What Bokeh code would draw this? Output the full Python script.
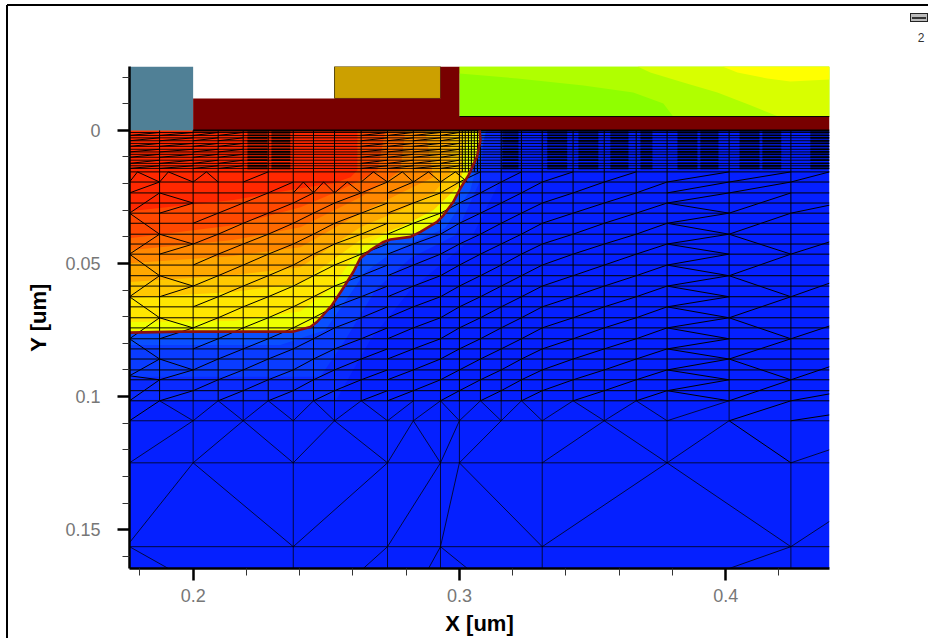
from bokeh.plotting import figure
from bokeh.models import Range1d, FixedTicker, Title
from bokeh.embed import file_html
from bokeh.resources import INLINE

# ---- mesh columns (um) ----
XN = [.1761,.1874,.2000,.2094,.2188,.2282,.2376,.2452,.2531,.2631,.2730,.2827,.2929,.3000,.3079,
      .3157,.3233,.3311,.3427,.3544,.3664,.3780,.4013,.4245,.4390,
      .1791,.1907,.2050,.2677,.2786,.2884,.2985,.2490,.2579,.2414,.3030,.2639]
# ---- mesh rows (um) ----
YN = [.0156,.0194,.0235,.0273,.0311,.0349,.0390,.0427,.0465,.0506,.0546,.0585,.0625,.0663,.0704,.0742,
      .0783,.0821,.0859,.0900,.0937,.0978,.1016,.1091,.1249,.1564,.1646,
      .0281,.0419,.0574,.0735,.0888,.0990,.1069,.1200,.1469,.0922,.1549]
YD = [.0008,.0019,.0028,.0039,.0049,.0060,.0071,.0081,.0090,.0101,.0112,.0124,.0133,.0143]
X_DENSE = [.3011,.3022,.3034,.3045,.3056,.3068]
COL_BOTTOM = [22,24,22,23,22,26,22,23,22,26,23,26,24,22,23,22,26,22,23,22,24,23,26]
DIAG_TOP = {2:3,3:3,4:0,5:0,6:2,7:2,8:2,9:1,10:1,11:1,12:1,13:0,14:0,15:0,16:0,17:0,18:0,19:0,20:0}
DARK_BANDS = [(.2204,.2279),(.2294,.2365),(.3161,.3222),(.3330,.3405),
              (.3447,.3522),(.3567,.3635),(.3680,.3725),(.3819,.3894),(.3905,.3973),(.4052,.4127),(.4138,.4209),(.4318,.4390)]
EDGES = [(0,1,25,0),(25,0,1,1),(1,1,26,0),(26,0,2,1),(2,1,27,0),(27,0,3,1),
 (6,2,34,1),(34,1,7,2),(7,2,32,1),(32,1,8,2),(8,2,33,1),(33,1,9,2),
 (9,1,28,0),(28,0,10,1),(10,1,29,0),(29,0,11,1),(11,1,30,0),(30,0,12,1),(12,1,31,0),(31,0,35,1),
 (0,2,1,1),(0,4,1,2),(0,4,1,6),(0,8,1,6),(0,8,1,10),(0,12,1,10),(0,12,1,14),(0,16,1,14),(0,16,1,18),(0,36,1,18),(0,36,1,20),(0,22,1,20),(0,23,1,22),
 (1,2,2,3),(1,4,2,3),(1,6,2,7),(1,8,2,7),(1,10,2,11),(1,12,2,11),(1,14,2,15),(1,16,2,15),(1,18,2,19),(1,20,2,19),(1,22,2,21),
 (21,1,22,0),(21,2,22,1),(21,3,22,2),(22,1,23,0),(22,2,23,1),(23,1,24,0),
 (21,3,22,4),(21,5,22,4),(21,5,22,6),(21,7,22,6),(21,7,22,8),(21,9,22,8),(21,9,22,10),(21,11,22,10),(21,11,22,12),(21,13,22,12),
 (21,13,22,14),(21,15,22,14),(21,15,22,16),(21,17,22,16),(21,17,22,18),(21,19,22,18),(21,19,22,20),(21,21,22,20),(21,21,22,22),
 (22,4,23,2),(22,6,23,4),(22,6,23,8),(22,10,23,8),(22,10,23,12),(22,14,23,12),(22,14,23,16),(22,18,23,16),(22,18,23,20),(22,22,23,20),(22,23,23,22),(22,23,23,24),
 (23,4,24,27),(23,8,24,28),(23,12,24,29),(23,16,24,30),(23,20,24,31),(23,22,24,32),(23,23,24,33)]
THIN_EDGES = [(23,24,24,34),(23,25,24,35),
 (1,22,2,23),(2,23,3,22),(3,22,4,23),(4,23,5,22),(5,22,6,23),(6,23,7,22),(7,22,8,23),(8,23,9,22),(9,22,10,23),(10,23,11,22),
 (11,23,12,22),(12,22,13,23),(13,23,14,22),(14,22,15,23),(15,23,16,22),(16,22,17,23),(17,23,18,22),(18,22,19,23),(19,23,20,22),(20,22,21,23),(21,23,22,22),
 (0,24,2,23),(0,37,2,24),(4,23,2,24),(4,23,6,24),(8,23,6,24),(8,23,10,24),(11,23,10,24),(11,23,12,24),(13,23,12,24),(15,23,13,24),
 (19,23,17,24),(19,23,21,24),(22,23,21,24),
 (2,24,6,25),(10,24,6,25),(12,24,10,25),(13,24,12,25),(13,24,17,25),(21,24,17,25),(21,24,23,25),
 (0,25,26,26),(10,25,36,26),(12,25,30,26),(12,25,35,26),(23,25,22,26)]

# ---- junction line ----
JX = [.3076,.3079,.3066,.3034,.3004,.2977,.2940,.2916,.2854,.2816,.2741,.2715,.2666,.2628,.2602,.2564,.2522,.2466,.2440,.2377,.1952,.1761]
JY = [0,.0037,.0100,.0169,.0217,.0269,.0319,.0344,.0381,.0400,.0410,.0419,.0450,.0480,.0531,.0592,.0656,.0719,.0739,.0756,.0756,.0760]

# ---- contour bands, left edge to top edge (um) ----
BANDS = [
 ("#ffe600",[.1761,.2151,.2403,.2522,.2628,.2778,.2902,.2993,.3049],[.0720,.0716,.0680,.0590,.0440,.0360,.0280,.0130,0]),
 ("#ffc800",[.1761,.2151,.2403,.2628,.2778,.2902,.2993,.3015,.3011],[.0630,.0607,.0574,.0412,.0364,.0300,.0214,.0150,0]),
 ("#ffa800",[.1761,.2151,.2403,.2628,.2778,.2902,.2966,.2966],[.0570,.0544,.0514,.0364,.0300,.0236,.0161,0]),
 ("#ff8800",[.1761,.2151,.2403,.2628,.2778,.2902,.2872],[.0499,.0472,.0439,.0311,.0236,.0176,0]),
 ("#ff6800",[.1761,.2151,.2403,.2628,.2730,.2778,.2797],[.0450,.0412,.0364,.0251,.0187,.0150,0]),
 ("#ff4800",[.1761,.2151,.2403,.2527,.2628,.2692,.2722],[.0405,.0356,.0289,.0236,.0187,.0150,0]),
 ("#ff2800",[.1761,.2151,.2403,.2527,.2591,.2617,.2617],[.0304,.0262,.0217,.0199,.0176,.0150,0]),
]
BLUES = [
 ("#0a2aff",[.1761,.2538,.2666,.2816,.3041,.3154,.3173],[.1012,.1012,.0787,.0600,.0412,.0187,0]),
 ("#0a3cff",[.1761,.2478,.2572,.2685,.2816,.2985,.3079,.3094],[.0926,.0926,.0787,.0600,.0480,.0394,.0187,0]),
 ("#0a50ff",[.1761,.2328,.2497,.2647,.2760,.2947,.3041,.3101],[.0806,.0806,.0750,.0532,.0450,.0367,.0225,0]),
]
# ---- layers above the surface ----
GREEN_BASE = "#90ff00"
GREENS = [
 ("#b0ff00",[.3000,.3218,.3466,.3653,.3766,.3803],[-.0214,-.0195,-.0169,-.0142,-.0101,-.0052]),
 ("#d8ff00",[.3669,.3717,.3841,.3969,.4093,.4198,.4390],[-.0240,-.0217,-.0180,-.0142,-.0094,-.0052,-.0052]),
 ("#ffff00",[.3988,.4044,.4157,.4243,.4390],[-.0240,-.0217,-.0195,-.0184,-.0191]),
]
OX_X = [.2000,.2929,.2929,.3000,.3000,.4390,.4390,.2000]
OX_Y = [-.0120,-.0120,-.0240,-.0240,-.0052,-.0052,0,0]

X_TICKS = [.2,.3,.4]
Y_TICKS = [0,.05,.1,.15]
X_MINOR = [.18,.22,.24,.26,.28,.32,.34,.36,.38,.42]
Y_MINOR = [-.02,-.01,.01,.02,.03,.04,.06,.07,.08,.09,.11,.12,.13,.14,.16]

X0, X1 = XN[0], XN[24]
Y0, Y1 = -.0240, YN[26]

p = figure(width=928, height=638, output_backend="svg", toolbar_location=None,
           x_range=Range1d(X0, X1), y_range=Range1d(Y1, Y0),
           min_border_left=129, min_border_right=99, min_border_top=66, min_border_bottom=69,
           x_axis_label="X [um]", y_axis_label="Y [um]")
p.grid.visible = False
p.outline_line_color = None
p.border_fill_color = None
p.styles = {
    "background-color": "white",
    "background-image": "linear-gradient(#000,#000),linear-gradient(#000,#000),linear-gradient(#333,#333),linear-gradient(#bbb,#bbb),linear-gradient(#222,#222)",
    "background-repeat": "no-repeat",
    "background-size": "921px 2px,2px 633px,14px 2px,16px 7px,18px 9px",
    "background-position": "7px 4px,6px 5px,912px 17px,911px 14px,910px 13px",
}
p.add_layout(Title(text="2", align="right", offset=-95, standoff=50, text_font_size="12px",
                   text_color="#333333", text_font="Liberation Sans", text_font_style="normal"), "above")

# n-region and p-region fills
p.quad(left=X0, right=X1, top=0, bottom=Y1, fill_color="#0520ff", line_color=None)
for c, xs, ys in BLUES:
    p.patch([X0]+xs+[X0], [0]+ys+[0], fill_color=c, line_color=None)
p.patch(JX+[X0], JY+[0], fill_color="#eeff00", line_color=None)
for c, xs, ys in BANDS:
    p.patch(xs+[X0], ys+[0], fill_color=c, line_color=None)

# layers above the surface
p.quad(left=X0, right=XN[2], top=Y0, bottom=0, fill_color="#508096", line_color=None)
p.quad(left=XN[13], right=X1, top=Y0, bottom=OX_Y[5], fill_color=GREEN_BASE, line_color=None)
gx1, gy1 = GREENS[0][1], GREENS[0][2]
p.patch([gx1[0]]+gx1+[X1, X1], [Y0]+gy1+[OX_Y[5], Y0], fill_color=GREENS[0][0], line_color=None)
gx2, gy2 = GREENS[1][1], GREENS[1][2]
p.patch(gx2+[X1], gy2+[Y0], fill_color=GREENS[1][0], line_color=None)
gx3, gy3 = GREENS[2][1], GREENS[2][2]
p.patch(gx3+[X1], gy3+[Y0], fill_color=GREENS[2][0], line_color=None)
p.quad(left=XN[8], right=XN[12], top=Y0, bottom=OX_Y[0], fill_color="#cca000", line_color="#5a4a10", line_width=1)
p.patch(OX_X, OX_Y, fill_color="#780000", line_color=None)
p.line([XN[13], X1], [OX_Y[5], OX_Y[5]], line_color="black", line_width=1)

# mesh
mx, my = [], []
tx, ty = [], []
for r in range(0, 23):
    mx.append([X0, X1]); my.append([YN[r], YN[r]])
for r in range(23, 26):
    tx.append([X0, X1]); ty.append([YN[r], YN[r]])
for i, b in enumerate(COL_BOTTOM):
    mx.append([XN[i+1], XN[i+1]]); my.append([0, YN[22]])
    tx.append([XN[i+1], XN[i+1]]); ty.append([YN[22], YN[b]])
for x in X_DENSE:
    mx.append([x, x]); my.append([0, YN[0]])
for i, top in DIAG_TOP.items():
    par = 1 if i < 10 else 0
    for j in range(top, 22):
        if (i + j + 1) % 2 == par:
            mx.append([XN[i], XN[i+1]]); my.append([YN[j+1], YN[j]])
for i in (0, 1, 2, 3, 9, 10, 11, 12):
    for k in range(0, len(YD)-1, 2):
        mx.append([XN[i], XN[i+1]]); my.append([YD[k+1], YD[k]])
for a, b, c, d in EDGES:
    mx.append([XN[a], XN[c]]); my.append([YN[b], YN[d]])
for a, b, c, d in THIN_EDGES:
    tx.append([XN[a], XN[c]]); ty.append([YN[b], YN[d]])
p.multi_line(mx, my, line_color="black", line_width=1.0)
p.multi_line(tx, ty, line_color="black", line_width=0.75)

dx, dy = [], []
for d in YD:
    dx.append([X0, X1]); dy.append([d, d])
p.multi_line(dx, dy, line_color="black", line_width=0.9)
bx, by = [], []
for l, r in DARK_BANDS:
    for d in YD:
        bx.append([l, r]); by.append([d, d])
p.multi_line(bx, by, line_color="black", line_width=1.8)
p.line([XN[2], X1], [0, 0], line_color="black", line_width=2)

p.line(JX, JY, line_color="#8c1010", line_width=2.6)

# axes
for ax, major, minor in ((p.xaxis[0], X_TICKS, X_MINOR), (p.yaxis[0], Y_TICKS, Y_MINOR)):
    ax.ticker = FixedTicker(ticks=major, minor_ticks=minor)
    ax.axis_line_color = "black"; ax.axis_line_width = 2.5
    ax.major_tick_line_color = "black"; ax.major_tick_line_width = 2.5
    ax.major_tick_in = 0; ax.major_tick_out = 12
    ax.minor_tick_line_color = "#333333"; ax.minor_tick_line_width = 1
    ax.minor_tick_in = 0; ax.minor_tick_out = 7
    ax.major_label_text_font = "Liberation Sans"; ax.major_label_text_font_size = "18px"
    ax.major_label_text_color = "#777777"
    ax.axis_label_text_font = "Liberation Sans"; ax.axis_label_text_font_size = "22px"
    ax.axis_label_text_font_style = "bold"; ax.axis_label_text_color = "black"
p.xaxis[0].major_label_standoff = 8
p.xaxis[0].axis_label_standoff = 6
p.yaxis[0].major_label_standoff = 17
p.yaxis[0].major_label_orientation = "horizontal"
p.yaxis[0].axis_label_standoff = 11

open("out.html", "w").write(file_html(p, INLINE))
